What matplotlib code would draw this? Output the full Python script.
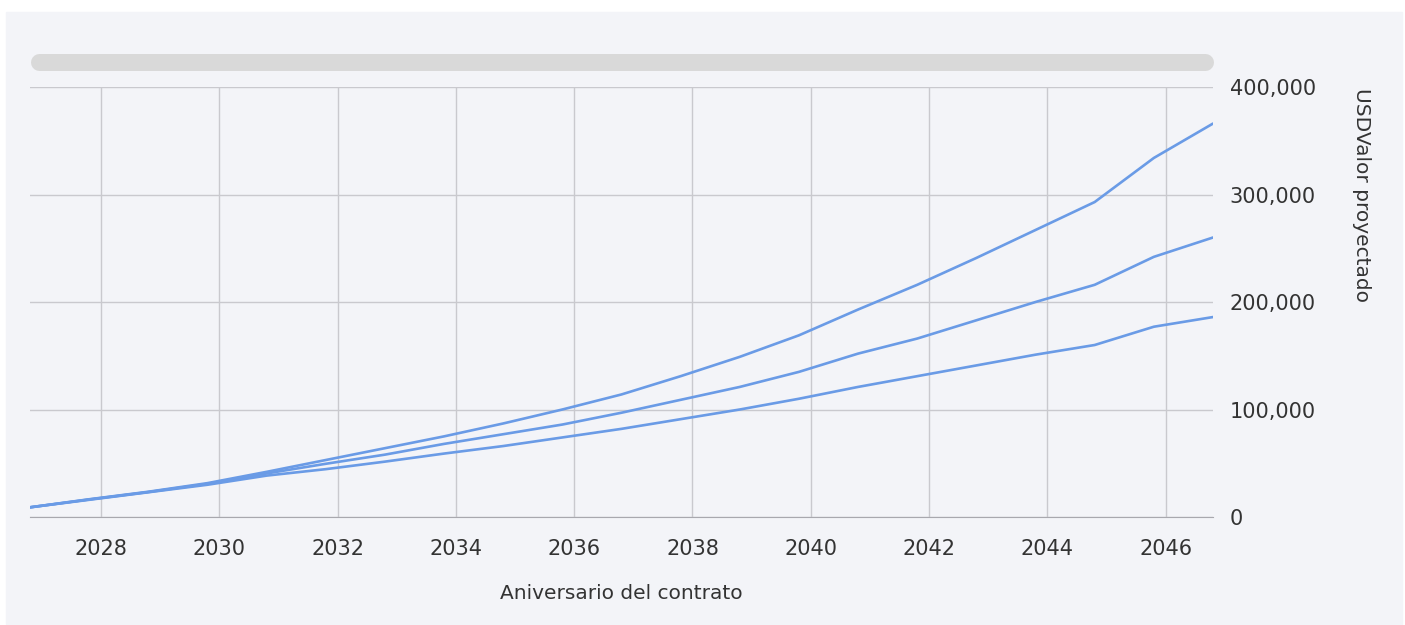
#!/usr/bin/env python3
# -*- coding: utf-8 -*-
"""
valor proyectado por aniversario del contrato - tres escenarios
"""
import numpy as np
import matplotlib
matplotlib.use('Agg')
import matplotlib.pyplot as plt
from matplotlib.patches import Rectangle
from matplotlib.lines import Line2D
from matplotlib.ticker import FuncFormatter

#%% data (USD miles)
anios = [2026.8 + k for k in range(21)]
alto = [9, 16.5, 23.5, 31.5, 42, 53, 64, 75, 87, 100, 114, 131, 149, 169,
        193, 216, 241, 267, 293, 334, 366]
medio = [9, 16.3, 23.2, 30.8, 40.5, 49.5, 58, 68, 77, 86, 97, 109, 121, 135,
         152, 166, 183, 200, 216, 242, 260]
bajo = [9, 16, 23, 30, 38.5, 44.5, 51.5, 59, 66, 74, 82, 91, 100, 110,
        121, 131, 141, 151, 160, 177, 186]
xticks = list(range(2028, 2047, 2))
yticks = [0, 100000, 200000, 300000, 400000]

#%% figure
bg = '#f3f4f8'
line_c = '#6a9be6'
txt_c = '#333333'

fig = plt.figure(figsize=(14.05, 6.25), dpi=100, facecolor='white')
W, H = 1405, 625
fig.patches.append(Rectangle((6 / W, 1 - 624 / H), 1396 / W, 612 / H,
                             transform=fig.transFigure, color=bg, zorder=-2))
# scroll bar look-alike
fig.lines.append(Line2D([39 / W, 1205 / W], [1 - 62 / H, 1 - 62 / H],
                        transform=fig.transFigure, color='#d9d9d9',
                        lw=17 * 72 / 100, solid_capstyle='round', zorder=-1))

ax = fig.add_axes([30 / W, 1 - 517 / H, 1183 / W, 430 / H])
ax.patch.set_alpha(0)

for s in (alto, medio, bajo):
    ax.plot(anios, np.array(s) * 1000, color=line_c, lw=1.9, solid_capstyle='round')

ax.set_xlim(anios[0], anios[-1])
ax.set_ylim(0, 400000)
ax.set_xticks(xticks)
ax.set_yticks(yticks)
ax.yaxis.tick_right()
ax.yaxis.set_major_formatter(FuncFormatter(lambda v, p: f'{int(v):,}'))
ax.grid(True, color='#c9c9ce', lw=1)
ax.set_axisbelow(True)
for sp in ['top', 'left', 'right']:
    ax.spines[sp].set_visible(False)
ax.spines['bottom'].set_color('#a8a8ae')
ax.tick_params(axis='both', length=0, labelsize=15, colors=txt_c)
ax.tick_params(axis='x', pad=16)
ax.tick_params(axis='y', pad=12)

ax.set_xlabel('Aniversario del contrato', fontsize=14.5, color=txt_c, labelpad=18)
fig.text(1362 / W, 1 - 88 / H, 'USDValor proyectado', rotation=270,
         va='top', ha='center', fontsize=14.5, color=txt_c)

fig.savefig('out.png', dpi=100, facecolor='white')
